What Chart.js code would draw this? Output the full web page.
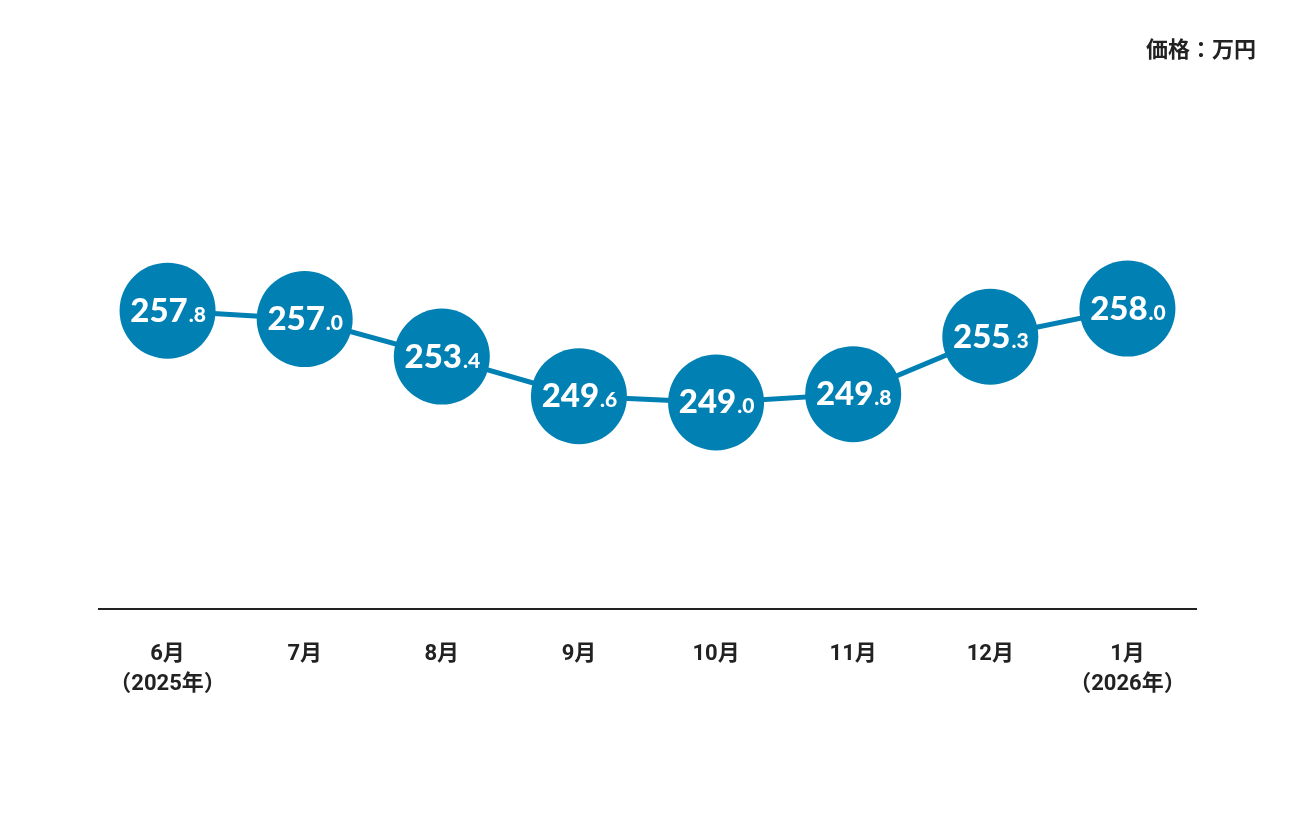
<!DOCTYPE html>
<html lang="ja">
<head>
<meta charset="utf-8">
<script src="https://cdn.jsdelivr.net/npm/chart.js@4/dist/chart.umd.min.js"></script>
<style>
  html, body { margin: 0; padding: 0; background: #fff; }
  #wrap { position: relative; width: 1296px; height: 816px; }
</style>
</head>
<body>
<div id="wrap"><canvas id="priceChart" width="1296" height="816"></canvas></div>
<script>
// data
const months = [['6月', '（2025年）'], '7月', '8月', '9月', '10月', '11月', '12月', ['1月', '（2026年）']];
const prices = [257.8, 257.0, 253.4, 249.6, 249.0, 249.8, 255.3, 258.0];
const unitLabel = '価格：万円';

const blue = '#0180b3';
const jpFont = 'Roboto, "Noto Sans CJK JP", sans-serif';

// draws the value text inside each circle + the unit label
const valueLabels = {
    id: 'valueLabels',
    afterDatasetsDraw(chart) {
        const ctx = chart.ctx;
        const meta = chart.getDatasetMeta(0);
        ctx.save();
        ctx.fillStyle = '#fff';
        ctx.textBaseline = 'alphabetic';
        meta.data.forEach((pt, i) => {
            const parts = prices[i].toFixed(1).split('.');
            const big = parts[0];
            const small = '.' + parts[1];
            ctx.font = '900 33px Lato, sans-serif';
            const wBig = ctx.measureText(big).width;
            ctx.font = '900 21px Lato, sans-serif';
            const wSmall = ctx.measureText(small).width;
            const x0 = pt.x - (wBig + wSmall) / 2;
            const base = pt.y + 11;
            ctx.textAlign = 'left';
            ctx.font = '900 33px Lato, sans-serif';
            ctx.fillText(big, x0, base);
            ctx.font = '900 21px Lato, sans-serif';
            ctx.fillText(small, x0 + wBig + 1, base);
        });
        // unit label top right
        ctx.fillStyle = '#222';
        ctx.font = 'bold 22px ' + jpFont;
        ctx.textAlign = 'right';
        ctx.textBaseline = 'middle';
        ctx.fillText(unitLabel, 1256, 51);
        ctx.restore();
    }
};

new Chart(document.getElementById('priceChart'), {
    type: 'line',
    data: {
        labels: months,
        datasets: [{
            data: prices,
            borderColor: blue,
            borderWidth: 5,
            pointRadius: 48,
            pointBackgroundColor: blue,
            pointBorderColor: blue,
            pointBorderWidth: 0,
            pointHoverRadius: 48,
            tension: 0,
            clip: false
        }]
    },
    options: {
        responsive: false,
        animation: false,
        events: [],
        layout: {
            padding: { top: 100, left: 99, right: 100, bottom: 0 }
        },
        scales: {
            x: {
                offset: true,
                grid: { display: false, drawTicks: false },
                border: { display: true, color: '#222', width: 2 },
                ticks: {
                    color: '#222',
                    padding: 31,
                    maxRotation: 0,
                    autoSkip: false,
                    font: { family: jpFont, size: 22, weight: 'bold', lineHeight: 1.36 }
                },
                afterFit(scale) { scale.height = 207; }
            },
            y: {
                display: false,
                min: 229.2,
                max: 278.0
            }
        },
        plugins: {
            legend: { display: false },
            tooltip: { enabled: false }
        }
    },
    plugins: [valueLabels]
});
</script>
</body>
</html>
